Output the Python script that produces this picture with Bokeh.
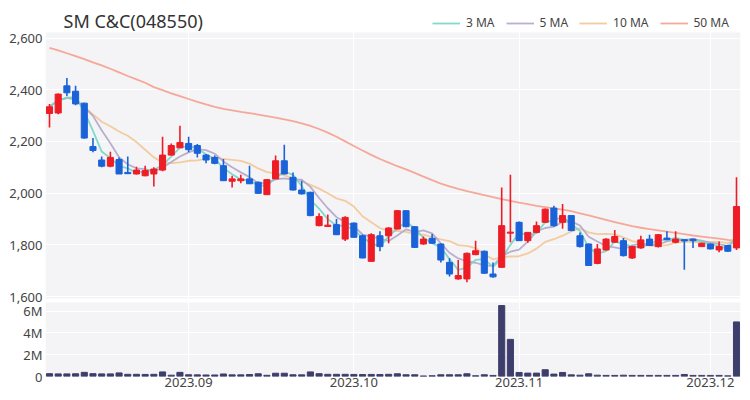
import pandas as pd
from bokeh.plotting import figure
from bokeh.models import (ColumnDataSource, FixedTicker, Legend, LegendItem, Range1d,
                          CustomJSTickFormatter, Grid, BoxAnnotation, Label)
from bokeh.embed import file_html
from bokeh.resources import INLINE

# ---------------- data ----------------
holidays = ["2023-08-15", "2023-09-28", "2023-09-29", "2023-10-02", "2023-10-03", "2023-10-09"]
dates = [d for d in pd.bdate_range("2023-08-09", "2023-12-06")
         if d.strftime("%Y-%m-%d") not in holidays]

opens = [2308, 2310, 2415, 2394, 2348, 2180, 2128, 2104, 2130, 2080,
         2074, 2067, 2074, 2089, 2147, 2175, 2192, 2184, 2147, 2138,
         2106, 2046, 2048, 2055, 2042, 1994, 2055, 2125, 2061, 2012,
         2003, 1874, 1871, 1878, 1822, 1884, 1835, 1736, 1835, 1835,
         1861, 1932, 1870, 1803, 1825, 1803, 1732, 1668, 1668, 1762,
         1775, 1687, 1713, 1845, 1887, 1816, 1848, 1887, 1942, 1887,
         1913, 1835, 1803, 1728, 1780, 1810, 1816, 1749, 1788, 1822,
         1793, 1826, 1810, 1820, 1822, 1793, 1803, 1780, 1797, 1788]
highs = [2345, 2385, 2445, 2415, 2350, 2213, 2142, 2160, 2138, 2142,
         2102, 2106, 2100, 2218, 2192, 2261, 2218, 2190, 2151, 2145,
         2132, 2067, 2071, 2106, 2045, 2055, 2145, 2187, 2080, 2048,
         2005, 1922, 1917, 1900, 1910, 1886, 1840, 1845, 1852, 1868,
         1935, 1934, 1872, 1832, 1842, 1805, 1748, 1741, 1770, 1816,
         1778, 1732, 2022, 2071, 1890, 1850, 1890, 1940, 1951, 1958,
         1915, 1848, 1805, 1803, 1825, 1857, 1826, 1796, 1835, 1839,
         1842, 1852, 1852, 1822, 1824, 1808, 1805, 1813, 1800, 2061]
lows = [2254, 2305, 2375, 2340, 2210, 2158, 2100, 2100, 2074, 2074,
        2072, 2065, 2026, 2085, 2145, 2175, 2158, 2138, 2115, 2112,
        2048, 2022, 2038, 2035, 1998, 1993, 2055, 2072, 2010, 1995,
        1910, 1872, 1870, 1838, 1815, 1828, 1748, 1735, 1775, 1806,
        1860, 1868, 1788, 1800, 1803, 1732, 1677, 1665, 1655, 1760,
        1688, 1673, 1710, 1810, 1815, 1808, 1845, 1885, 1870, 1862,
        1852, 1790, 1718, 1725, 1778, 1808, 1755, 1745, 1785, 1795,
        1790, 1818, 1806, 1703, 1788, 1792, 1782, 1771, 1773, 1780]
closes = [2334, 2383, 2388, 2345, 2213, 2165, 2104, 2138, 2074, 2075,
          2089, 2087, 2093, 2147, 2184, 2196, 2168, 2154, 2128, 2115,
          2048, 2055, 2055, 2036, 1999, 2052, 2125, 2074, 2012, 1997,
          1913, 1909, 1876, 1839, 1906, 1829, 1749, 1839, 1793, 1865,
          1932, 1870, 1790, 1822, 1806, 1741, 1687, 1681, 1767, 1777,
          1690, 1676, 1874, 1849, 1816, 1848, 1874, 1938, 1874, 1913,
          1855, 1793, 1720, 1784, 1822, 1832, 1758, 1793, 1819, 1797,
          1839, 1820, 1822, 1815, 1816, 1806, 1784, 1793, 1775, 1948]
volumes = [260000, 240000, 240000, 250000, 380000, 260000, 240000, 240000, 330000, 200000,
           200000, 190000, 200000, 420000, 120000, 380000, 160000, 150000, 140000, 140000,
           230000, 150000, 150000, 180000, 250000, 110000, 300000, 300000, 160000, 150000,
           420000, 260000, 200000, 200000, 200000, 190000, 180000, 190000, 180000, 200000,
           250000, 160000, 160000, 50000, 70000, 160000, 160000, 160000, 250000, 70000,
           160000, 100000, 6500000, 3400000, 370000, 310000, 310000, 620000, 220000, 370000,
           150000, 120000, 250000, 120000, 100000, 100000, 120000, 100000, 100000, 100000,
           100000, 100000, 100000, 185000, 100000, 100000, 100000, 100000, 60000, 5000000]
ma50 = [2562, 2552, 2541, 2530, 2518, 2506, 2494, 2481, 2467, 2453,
        2440, 2427, 2410, 2398, 2386, 2375, 2364, 2353, 2343, 2334,
        2326, 2320, 2314, 2309, 2304, 2298, 2292, 2285, 2278, 2270,
        2260, 2248, 2234, 2218, 2200, 2182, 2165, 2148, 2132, 2118,
        2104, 2092, 2078, 2064, 2050, 2037, 2026, 2016, 2008, 2000,
        1992, 1984, 1977, 1970, 1963, 1957, 1951, 1946, 1941, 1936,
        1930, 1922, 1914, 1905, 1896, 1888, 1880, 1872, 1866, 1861,
        1856, 1851, 1846, 1841, 1836, 1832, 1828, 1824, 1819, 1815]
price_ticks = [1600, 1800, 2000, 2200, 2400, 2600]
volume_ticks = [0, 2000000, 4000000, 6000000]
ma_periods = [3, 5, 10]
title_text = "SM C&C(048550)"

# ---------------- derived ----------------
n = len(closes)
xs = list(range(n))
UP, DOWN = "#ee1c25", "#1a62d8"
colors = [UP if c >= o else DOWN for o, c in zip(opens, closes)]
src = ColumnDataSource(dict(
    x=xs, open=opens, high=highs, low=lows, close=closes,
    top=[max(o, c) for o, c in zip(opens, closes)],
    bottom=[min(o, c) for o, c in zip(opens, closes)],
    color=colors, volume=volumes,
))
cs = pd.Series(closes, dtype=float)
mas = {p: cs.rolling(p, min_periods=1).mean().tolist() for p in ma_periods}
mas[50] = ma50

month_ticks = [i for i in range(1, n) if dates[i].month != dates[i - 1].month]
month_labels = {i: dates[i].strftime("%Y.%m") for i in month_ticks}

FONT = "Noto Sans"
BG = "#f4f4f6"
TXT = "#444444"

# ---------------- layout geometry (pixels) ----------------
W, H = 748, 398
F_LEFT, F_RIGHT = 45, 740
F_TOP, F_BOTTOM = 0, 376            # frame spans title row, price panel, gap and volume panel
PRICE_TOP, PRICE_BOTTOM = 32, 298
VOL_TOP, VOL_BOTTOM = 302, 376
PX_PER_200 = 51.7                   # price pixels per 200 won
Y1600 = 296                         # pixel row of the 1,600 gridline
VOL_PX_6M = 65.5                    # pixels for 6M of volume
TITLE_X, TITLE_Y = 63, 20
LEGEND_X, LEGEND_Y = 432, 24

ppp = 200.0 / PX_PER_200
X0, X1 = -0.46, n - 1 + 0.46


def py(px_y):          # pixel row -> price coordinate
    return 1600 + (Y1600 - px_y) * ppp


def px_x(px):          # pixel column -> x coordinate
    return X0 + (px - F_LEFT) / (F_RIGHT - F_LEFT) * (X1 - X0)


P0, P1 = py(F_BOTTOM), py(F_TOP)
vpp = 6e6 / VOL_PX_6M
V0, V1 = 0.0, (F_BOTTOM - F_TOP) * vpp


def vol_to_price(v):
    return P0 + (v - V0) / (V1 - V0) * (P1 - P0)


p = figure(width=W, height=H, x_range=Range1d(X0, X1), y_range=Range1d(P0, P1),
           output_backend="svg", toolbar_location=None,
           min_border_left=F_LEFT, min_border_right=W - F_RIGHT,
           min_border_top=F_TOP, min_border_bottom=H - F_BOTTOM,
           background_fill_color="white", border_fill_color="white", outline_line_color=None)
p.extra_y_ranges = {"vol": Range1d(V0, V1)}

# grey panel backgrounds
p.add_layout(BoxAnnotation(top=py(PRICE_TOP), bottom=py(PRICE_BOTTOM), fill_color=BG,
                           fill_alpha=1, line_alpha=0, level="image"))
p.add_layout(BoxAnnotation(top=py(VOL_TOP), bottom=py(VOL_BOTTOM), fill_color=BG,
                           fill_alpha=1, line_alpha=0, level="image"))

# axes
p.yaxis.ticker = FixedTicker(ticks=price_ticks + [vol_to_price(v) for v in volume_ticks])
p.yaxis.formatter = CustomJSTickFormatter(args=dict(P0=P0, P1=P1, V0=V0, V1=V1, thr=1550), code="""
    if (tick >= thr) { return Math.round(tick).toLocaleString('en-US'); }
    const v = V0 + (tick - P0) / (P1 - P0) * (V1 - V0);
    const m = Math.round(v / 1e6);
    return m == 0 ? "0" : m + "M";
""")
p.xaxis.ticker = FixedTicker(ticks=month_ticks)
p.xaxis.major_label_overrides = month_labels
for ax in [p.yaxis[0], p.xaxis[0]]:
    ax.axis_line_color = None
    ax.major_tick_line_color = None
    ax.minor_tick_line_color = None
    ax.major_tick_out = 0
    ax.major_tick_in = 0
    ax.major_label_text_font = FONT
    ax.major_label_text_font_size = "13px"
    ax.major_label_text_color = TXT
p.yaxis.major_label_standoff = 3
p.xaxis.major_label_standoff = 1

# grids (white)
p.xgrid.ticker = FixedTicker(ticks=month_ticks)
p.ygrid.ticker = FixedTicker(ticks=price_ticks)
vgrid = Grid(dimension=1, ticker=FixedTicker(ticks=volume_ticks), y_range_name="vol")
p.add_layout(vgrid)
for g in (p.xgrid[0], p.ygrid[0], vgrid):
    g.grid_line_color = "white"
    g.grid_line_width = 1

# moving averages
ma_colors = {3: "#74d6c6", 5: "#b3a6cc", 10: "#f2c796", 50: "#f5a08e"}
ma_renderers = {}
for per in [50, 10, 5, 3]:
    ma_renderers[per] = p.line(xs, mas[per], line_color=ma_colors[per], line_width=1.8, line_alpha=0.9)

# candles
p.segment(x0="x", y0="low", x1="x", y1="high", source=src, line_color="color", line_width=1.6)
p.vbar(x="x", width=0.7, top="top", bottom="bottom", source=src,
       fill_color="color", line_color="color", line_width=1)

# volume
p.vbar(x="x", width=0.7, top="volume", bottom=0, source=src, y_range_name="vol",
       fill_color="#3e3e6c", line_color="#3e3e6c")

# title
p.add_layout(Label(x=px_x(TITLE_X), y=py(TITLE_Y), text=title_text, text_font=FONT,
                   text_font_size="18px", text_color="#333333", text_baseline="middle",
                   text_align="left"))

# legend (inside the frame, in the white row above the price panel)
LEG_H = 14
legend = Legend(items=[LegendItem(label=f"{per} MA", renderers=[ma_renderers[per]]) for per in [3, 5, 10, 50]],
                orientation="horizontal",
                location=(LEGEND_X - F_LEFT, F_BOTTOM - (LEGEND_Y + LEG_H / 2)),
                background_fill_alpha=0, border_line_alpha=0,
                label_text_font=FONT, label_text_font_size="12px", label_text_color=TXT,
                glyph_width=28, glyph_height=LEG_H, label_standoff=6, spacing=11,
                padding=0, margin=0, label_height=LEG_H)
p.add_layout(legend)

open("out.html", "w").write(file_html(p, INLINE))
